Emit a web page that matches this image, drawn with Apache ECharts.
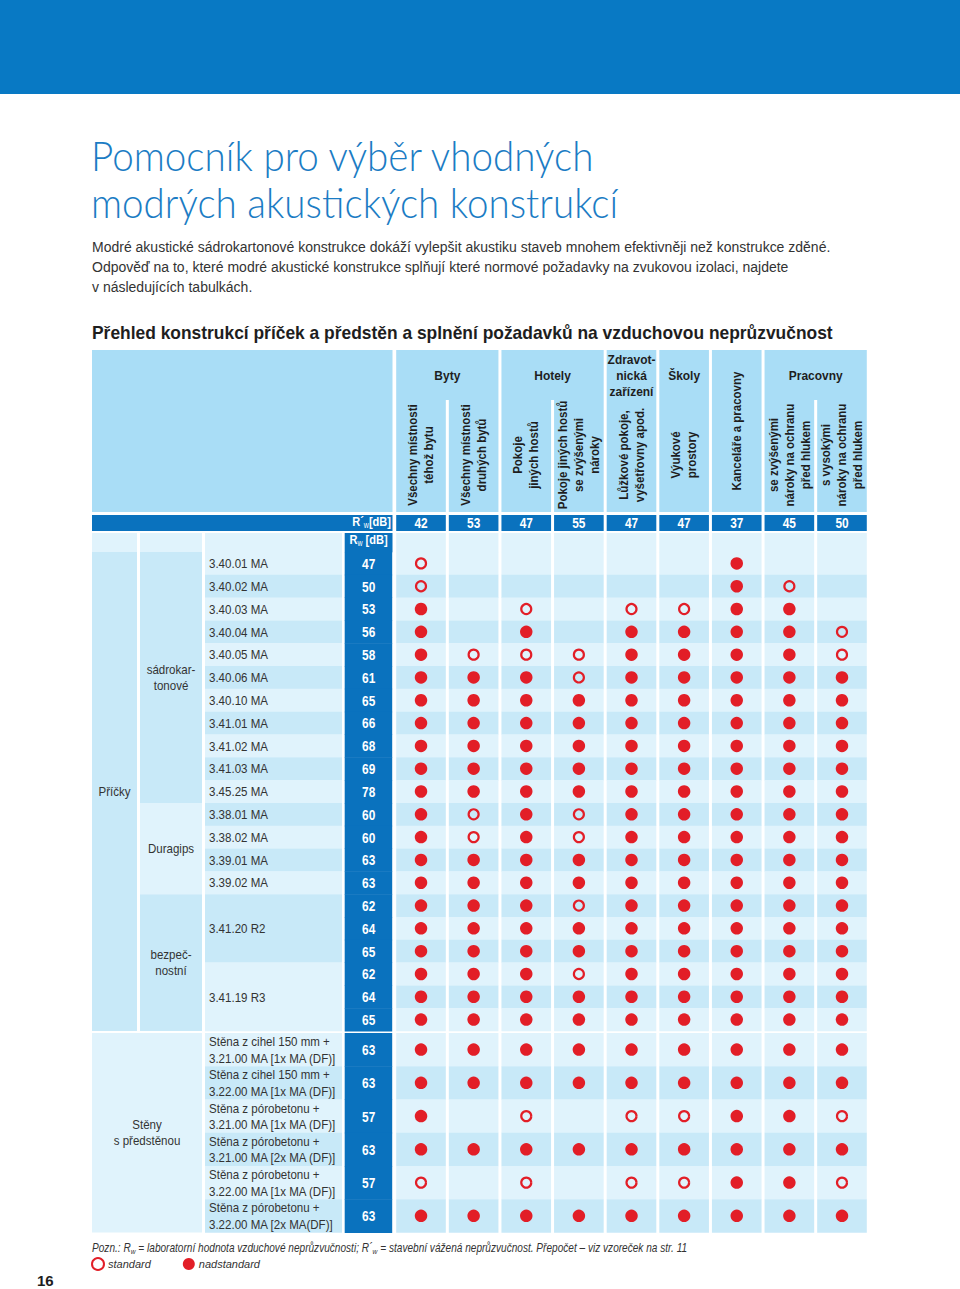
<!DOCTYPE html>
<html><head><meta charset="utf-8">
<script src="https://cdn.jsdelivr.net/npm/echarts@6/dist/echarts.min.js"></script>
<style>html,body{margin:0;padding:0;background:#fff}#c{width:960px;height:1289px}</style>
</head><body><div id="c"></div>
<script>
// ---------------- DATA ----------------
const columnGroups = ['Byty', 'Hotely', 'Zdravot-\nnická\nzařízení', 'Školy', '', 'Pracovny'];
const columnGroupSpans = [[0, 1], [2, 3], [4, 4], [5, 5], [6, 6], [7, 8]];
const columnLabels = [
  'Všechny místnosti\ntéhož bytu',
  'Všechny místnosti\ndruhých bytů',
  'Pokoje\njiných hostů',
  'Pokoje jiných hostů\nse zvýšenými\nnároky',
  'Lůžkové pokoje,\nvyšetřovny apod.',
  'Výukové\nprostory',
  'Kanceláře a pracovny',
  'se zvýšenými\nnároky na ochranu\npřed hlukem',
  's vysokými\nnároky na ochranu\npřed hlukem'
];
const requirementRw = [42, 53, 47, 55, 47, 47, 37, 45, 50];

const partitionGroup = 'Příčky';
const partitionSubgroups = ['sádrokar-\ntonové', 'Duragips', 'bezpeč-\nnostní'];
const partitionSubgroupSpans = [[0, 10], [11, 14], [15, 20]];
const partitionLabels = [
  '3.40.01 MA', '3.40.02 MA', '3.40.03 MA', '3.40.04 MA', '3.40.05 MA', '3.40.06 MA',
  '3.40.10 MA', '3.41.01 MA', '3.41.02 MA', '3.41.03 MA', '3.45.25 MA',
  '3.38.01 MA', '3.38.02 MA', '3.39.01 MA', '3.39.02 MA',
  '3.41.20 R2', null, null, '3.41.19 R3', null, null
];
const partitionRw = [47, 50, 53, 56, 58, 61, 65, 66, 68, 69, 78, 60, 60, 63, 63, 62, 64, 65, 62, 64, 65];
// 0 = none, 1 = standard, 2 = nadstandard
const partitionMarks = [
  [1, 0, 0, 0, 0, 0, 2, 0, 0],
  [1, 0, 0, 0, 0, 0, 2, 1, 0],
  [2, 0, 1, 0, 1, 1, 2, 2, 0],
  [2, 0, 2, 0, 2, 2, 2, 2, 1],
  [2, 1, 1, 1, 2, 2, 2, 2, 1],
  [2, 2, 2, 1, 2, 2, 2, 2, 2],
  [2, 2, 2, 2, 2, 2, 2, 2, 2],
  [2, 2, 2, 2, 2, 2, 2, 2, 2],
  [2, 2, 2, 2, 2, 2, 2, 2, 2],
  [2, 2, 2, 2, 2, 2, 2, 2, 2],
  [2, 2, 2, 2, 2, 2, 2, 2, 2],
  [2, 1, 2, 1, 2, 2, 2, 2, 2],
  [2, 1, 2, 1, 2, 2, 2, 2, 2],
  [2, 2, 2, 2, 2, 2, 2, 2, 2],
  [2, 2, 2, 2, 2, 2, 2, 2, 2],
  [2, 2, 2, 1, 2, 2, 2, 2, 2],
  [2, 2, 2, 2, 2, 2, 2, 2, 2],
  [2, 2, 2, 2, 2, 2, 2, 2, 2],
  [2, 2, 2, 1, 2, 2, 2, 2, 2],
  [2, 2, 2, 2, 2, 2, 2, 2, 2],
  [2, 2, 2, 2, 2, 2, 2, 2, 2]
];

const liningGroup = 'Stěny\ns předstěnou';
const liningLabels = [
  'Stěna z cihel 150 mm +\n3.21.00 MA [1x MA (DF)]',
  'Stěna z cihel 150 mm +\n3.22.00 MA [1x MA (DF)]',
  'Stěna z pórobetonu +\n3.21.00 MA [1x MA (DF)]',
  'Stěna z pórobetonu +\n3.21.00 MA [2x MA (DF)]',
  'Stěna z pórobetonu +\n3.22.00 MA [1x MA (DF)]',
  'Stěna z pórobetonu +\n3.22.00 MA [2x MA(DF)]'
];
const liningRw = [63, 63, 57, 63, 57, 63];
const liningMarks = [
  [2, 2, 2, 2, 2, 2, 2, 2, 2],
  [2, 2, 2, 2, 2, 2, 2, 2, 2],
  [2, 0, 1, 0, 1, 1, 2, 2, 1],
  [2, 2, 2, 2, 2, 2, 2, 2, 2],
  [1, 0, 1, 0, 1, 1, 2, 2, 1],
  [2, 2, 2, 2, 2, 2, 2, 2, 2]
];
const legendNames = ['standard', 'nadstandard'];

const titleLines = ['Pomocník pro výběr vhodných', 'modrých akustických konstrukcí'];
const introText = [
  'Modré akustické sádrokartonové konstrukce dokáží vylepšit akustiku staveb mnohem efektivněji než konstrukce zděné.',
  'Odpověď na to, které modré akustické konstrukce splňují které normové požadavky na zvukovou izolaci, najdete',
  'v následujících tabulkách.'
];
const tableTitle = 'Přehled konstrukcí příček a předstěn a splnění požadavků na vzduchovou neprůzvučnost';
const noteText = 'Pozn.: R{w|w} = laboratorní hodnota vzduchové neprůzvučnosti; R´{w|w} = stavební vážená neprůzvučnost. Přepočet – viz vzoreček na str. 11';
const pageNumber = '16';

// ---------------- STYLE ----------------
const SANS = '"Liberation Sans", Arial, sans-serif';
const BLUE = '#0a72be';
const TOPBLUE = '#0879c4';
const HEAD = '#a9ddf6';
const LIGHT = '#e0f3fc';
const DARK = '#c8e9f8';
const RED = '#e21e27';
const TXT = '#333333';
const GAP = 3;

const mctx = document.createElement('canvas').getContext('2d');
function textWidth(text, font) {
  mctx.font = font;
  return Math.max.apply(null, text.split('\n').map(l => mctx.measureText(l).width));
}
const LABEL_SIZE = 13;
const LABEL_SCALE = 121 / textWidth('Stěna z cihel 150 mm +', LABEL_SIZE + 'px ' + SANS);
const NUM_SIZE = 14.5;
const NUM_SCALE = 0.82;
const TITLE_SIZE = 42;
const TITLE_SCALE = 505 / textWidth(titleLines[0], '300 ' + TITLE_SIZE + 'px Lato');
const INTRO_SIZE = 15;
const INTRO_SCALE = 739 / textWidth(introText[0], INTRO_SIZE + 'px ' + SANS);
const TT_SIZE = 18.5;
const TT_SCALE = 741 / textWidth(tableTitle, 'bold ' + TT_SIZE + 'px ' + SANS);
const NOTE_SIZE = 12;
const NOTE_SCALE = 600 / textWidth(noteText.replace(/\{w\|w\}/g, 'w'), 'italic ' + NOTE_SIZE + 'px ' + SANS);

const chart = echarts.init(document.getElementById('c'), null, { renderer: 'svg', width: 960, height: 1289 });

function spansFromLabels(labels) {
  const out = [];
  labels.forEach((l, i) => {
    if (l !== null) out.push([i, i, l]);
    else out[out.length - 1][1] = i;
  });
  return out;
}
function markPoints(marks, kind) {
  const pts = [];
  marks.forEach((row, r) => row.forEach((m, j) => { if (m === kind) pts.push([j, r]); }));
  return pts;
}

// row backgrounds + Rw cells
function renderRow(params, api) {
  const row = api.value(0);
  const rw = api.value(1);
  const sz = api.size([1, 1]);
  const bw = sz[0], bh = sz[1];
  const cs = params.coordSys;
  const cy = api.coord([0, row])[1];
  const fill = row % 2 ? DARK : LIGHT;
  const children = [];
  for (let j = 0; j < columnLabels.length; j++) {
    const cx = api.coord([j, row])[0];
    children.push({ type: 'rect', shape: { x: cx - bw / 2 + GAP / 2, y: cy - bh / 2, width: bw - GAP, height: bh + 0.3 }, style: { fill } });
  }
  children.push({ type: 'rect', shape: { x: cs.x - 50, y: cy - bh / 2, width: 47.5, height: bh + 0.5 }, style: { fill: BLUE } });
  children.push({ type: 'text', x: cs.x - 26, y: cy + 0.5, scaleX: NUM_SCALE, style: { text: String(rw), fill: '#fff', fontFamily: SANS, fontWeight: 'bold', fontSize: NUM_SIZE, align: 'center', verticalAlign: 'middle' } });
  return { type: 'group', children };
}
// merged label cells
function renderLabel(params, api) {
  const s = api.value(0), e = api.value(1);
  const bh = api.size([1, 1])[1];
  const y0 = api.coord([0, s])[1] - bh / 2;
  const y1 = api.coord([0, e])[1] + bh / 2;
  const label = spanLabelsByKey[params.seriesId][params.dataIndex];
  return { type: 'group', children: [
    { type: 'rect', shape: { x: 205, y: y0, width: 137, height: y1 - y0 + 0.3 }, style: { fill: s % 2 ? DARK : LIGHT } },
    { type: 'text', x: 209, y: (y0 + y1) / 2 + 0.5, scaleX: LABEL_SCALE, style: { text: label, fill: TXT, fontFamily: SANS, fontSize: LABEL_SIZE, lineHeight: 16.5, align: 'left', verticalAlign: 'middle' } }
  ] };
}
// group cells on the left
function renderGroup(params, api) {
  const s = api.value(0), e = api.value(1), kind = api.value(2), shade = api.value(3);
  const bh = api.size([1, 1])[1];
  const y0 = api.coord([0, s])[1] - bh / 2;
  const y1 = api.coord([0, e])[1] + bh / 2;
  const x0 = kind === 1 ? 140 : 92;
  const x1 = kind === 0 ? 137 : 202;
  const label = groupLabelsByKey[params.seriesId][params.dataIndex];
  return { type: 'group', children: [
    { type: 'rect', shape: { x: x0, y: y0, width: x1 - x0, height: y1 - y0 }, style: { fill: shade ? DARK : LIGHT } },
    { type: 'text', x: (x0 + x1) / 2, y: (y0 + y1) / 2, scaleX: LABEL_SCALE, style: { text: label, fill: TXT, fontFamily: SANS, fontSize: LABEL_SIZE, lineHeight: 16, align: 'center', verticalAlign: 'middle' } }
  ] };
}
// header column groups
function renderHeadGroup(params, api) {
  const s = api.value(0), e = api.value(1);
  const bw = api.size([1, 0])[0];
  const cs = params.coordSys;
  const x0 = api.coord([s, 0])[0] - bw / 2 + GAP / 2;
  const x1 = api.coord([e, 0])[0] + bw / 2 - GAP / 2;
  const children = [{ type: 'rect', shape: { x: x0, y: cs.y, width: x1 - x0, height: 162 }, style: { fill: HEAD } }];
  for (let j = s; j < e; j++) {
    const xb = api.coord([j, 0])[0] + bw / 2;
    children.push({ type: 'rect', shape: { x: xb - GAP / 2, y: cs.y + 50, width: GAP, height: 112 }, style: { fill: '#fff' } });
  }
  const label = columnGroups[params.dataIndex];
  if (label) children.push({ type: 'text', x: (x0 + x1) / 2, y: cs.y + 26, scaleX: 0.92, style: { text: label, fill: '#1e1e1e', fontFamily: SANS, fontWeight: 'bold', fontSize: 13, lineHeight: 16, align: 'center', verticalAlign: 'middle' } });
  return { type: 'group', children };
}
// header columns: sub labels, R'w requirement, Rw header row
function renderHeadCol(params, api) {
  const j = api.value(0), req = api.value(1);
  const bw = api.size([1, 0])[0];
  const cs = params.coordSys;
  const cx = api.coord([j, 0])[0];
  const grouped = columnGroups[columnGroupSpans.findIndex(sp => j >= sp[0] && j <= sp[1])] !== '';
  return { type: 'group', children: [
    { type: 'text', x: cx, y: cs.y + (grouped ? 105 : 81), rotation: Math.PI / 2, scaleX: 0.92, style: { text: columnLabels[j], fill: '#1e1e1e', fontFamily: SANS, fontWeight: 'bold', fontSize: 12.5, lineHeight: 16, align: 'center', verticalAlign: 'middle' } },
    { type: 'rect', shape: { x: cx - bw / 2 + GAP / 2, y: cs.y + 165, width: bw - GAP, height: 16 }, style: { fill: BLUE } },
    { type: 'text', x: cx, y: cs.y + 173.5, scaleX: NUM_SCALE, style: { text: String(req), fill: '#fff', fontFamily: SANS, fontWeight: 'bold', fontSize: NUM_SIZE, align: 'center', verticalAlign: 'middle' } },
    { type: 'rect', shape: { x: cx - bw / 2 + GAP / 2, y: cs.y + 183, width: bw - GAP, height: 19.3 }, style: { fill: LIGHT } }
  ] };
}

const partitionSpans = spansFromLabels(partitionLabels);
const liningSpans = spansFromLabels(liningLabels);
const spanLabelsByKey = {
  pLabels: partitionSpans.map(s => s[2]),
  lLabels: liningSpans.map(s => s[2])
};
const partitionGroupData = [[0, partitionRw.length - 1, 0, 1]].concat(partitionSubgroupSpans.map((sp, i) => [sp[0], sp[1], 1, i % 2 === 0 ? 1 : 0]));
const groupLabelsByKey = {
  pGroups: [partitionGroup].concat(partitionSubgroups),
  lGroups: [liningGroup]
};

const catX = (gi) => ({ type: 'category', gridIndex: gi, data: columnLabels.map((_, i) => i), show: false, boundaryGap: true });
const catY = (gi, n) => ({ type: 'category', gridIndex: gi, data: Array.from({ length: n }, (_, i) => i), inverse: true, show: false, boundaryGap: true });

const scatterStyle = {
  standard: { symbol: 'circle', symbolSize: 10, itemStyle: { color: 'rgba(255,255,255,0)', borderColor: RED, borderWidth: 2.2, opacity: 1 } },
  nadstandard: { symbol: 'circle', symbolSize: 12.5, itemStyle: { color: RED, opacity: 1 } }
};
function scatterSeries(gi, marks) {
  return legendNames.map((name, k) => Object.assign({
    type: 'scatter', name, xAxisIndex: gi, yAxisIndex: gi, z: 5, silent: true,
    data: markPoints(marks, k + 1)
  }, scatterStyle[name]));
}

const subW = { fontSize: 8.5, padding: [7, 0, 0, 0] };
const option = {
  animation: false,
  grid: [
    { left: 394.7, top: 552, width: 473.6, height: 479 },
    { left: 394.7, top: 1033, width: 473.6, height: 199.5 },
    { left: 394.7, top: 350, width: 473.6, height: 201 }
  ],
  xAxis: [catX(0), catX(1), catX(2)],
  yAxis: [catY(0, partitionRw.length), catY(1, liningRw.length), { type: 'value', gridIndex: 2, min: 0, max: 1, show: false }],
  legend: {
    left: 91, top: 1257, padding: 0, itemWidth: 12, itemHeight: 12, itemGap: 32, selectedMode: false,
    textStyle: { fontFamily: SANS, fontStyle: 'italic', fontSize: 11, color: TXT, padding: [0, 0, 0, -1] },
    data: [
      { name: 'standard', icon: 'circle', itemStyle: { color: '#fff', borderColor: RED, borderWidth: 2, opacity: 1 } },
      { name: 'nadstandard', icon: 'circle', itemStyle: { color: RED, opacity: 1 } }
    ]
  },
  graphic: [
    { type: 'rect', shape: { x: 0, y: 0, width: 960, height: 94 }, style: { fill: TOPBLUE } },
    { type: 'text', x: 91, y: 155, scaleX: TITLE_SCALE, style: { text: titleLines[0], fill: '#1b7cc4', fontFamily: 'Lato', fontWeight: 300, fontSize: TITLE_SIZE, verticalAlign: 'middle' } },
    { type: 'text', x: 91, y: 202, scaleX: TITLE_SCALE, style: { text: titleLines[1], fill: '#1b7cc4', fontFamily: 'Lato', fontWeight: 300, fontSize: TITLE_SIZE, verticalAlign: 'middle' } },
    { type: 'text', x: 92, y: 267, scaleX: INTRO_SCALE, style: { text: introText.join('\n'), fill: '#333', fontFamily: SANS, fontSize: INTRO_SIZE, lineHeight: 20, verticalAlign: 'middle' } },
    { type: 'text', x: 92, y: 333, scaleX: TT_SCALE, style: { text: tableTitle, fill: '#1e1e1e', fontFamily: SANS, fontWeight: 'bold', fontSize: TT_SIZE, verticalAlign: 'middle' } },
    // left header block
    { type: 'rect', shape: { x: 92, y: 350, width: 300.5, height: 162 }, style: { fill: HEAD } },
    { type: 'rect', shape: { x: 92, y: 515, width: 300.5, height: 16 }, style: { fill: BLUE } },
    { type: 'text', x: 391, y: 522, scaleX: NUM_SCALE, style: { text: 'R´{w|w}[dB]', fill: '#fff', fontFamily: SANS, fontWeight: 'bold', fontSize: 13.5, align: 'right', verticalAlign: 'middle', rich: { w: subW } } },
    { type: 'rect', shape: { x: 92, y: 533, width: 45, height: 19.3 }, style: { fill: LIGHT } },
    { type: 'rect', shape: { x: 140, y: 533, width: 62, height: 19.3 }, style: { fill: LIGHT } },
    { type: 'rect', shape: { x: 205, y: 533, width: 137, height: 19.3 }, style: { fill: LIGHT } },
    { type: 'rect', shape: { x: 344.7, y: 533, width: 47.8, height: 19.3 }, style: { fill: BLUE } },
    { type: 'text', x: 368.5, y: 540, scaleX: NUM_SCALE, style: { text: 'R{w|w} [dB]', fill: '#fff', fontFamily: SANS, fontWeight: 'bold', fontSize: 13.5, align: 'center', verticalAlign: 'middle', rich: { w: subW } } },
    // footnote
    { type: 'text', x: 92, y: 1248, scaleX: NOTE_SCALE, style: { text: noteText, fill: TXT, fontFamily: SANS, fontStyle: 'italic', fontSize: NOTE_SIZE, verticalAlign: 'middle', rich: { w: { fontSize: 8, fontStyle: 'italic', padding: [6, 0, 0, 0] } } } },
    { type: 'text', x: 37, y: 1280, style: { text: pageNumber, fill: '#1e1e1e', fontFamily: SANS, fontWeight: 'bold', fontSize: 15, verticalAlign: 'middle' } }
  ],
  series: [
    { type: 'custom', id: 'headGroups', xAxisIndex: 2, yAxisIndex: 2, z: 1, silent: true, renderItem: renderHeadGroup, data: columnGroupSpans },
    { type: 'custom', id: 'headCols', xAxisIndex: 2, yAxisIndex: 2, z: 2, silent: true, renderItem: renderHeadCol, data: requirementRw.map((v, i) => [i, v]) },
    { type: 'custom', id: 'pRows', xAxisIndex: 0, yAxisIndex: 0, z: 1, silent: true, renderItem: renderRow, data: partitionRw.map((v, i) => [i, v]) },
    { type: 'custom', id: 'pLabels', xAxisIndex: 0, yAxisIndex: 0, z: 1, silent: true, renderItem: renderLabel, data: partitionSpans.map(s => [s[0], s[1]]) },
    { type: 'custom', id: 'pGroups', xAxisIndex: 0, yAxisIndex: 0, z: 1, silent: true, renderItem: renderGroup, data: partitionGroupData },
    { type: 'custom', id: 'lRows', xAxisIndex: 1, yAxisIndex: 1, z: 1, silent: true, renderItem: renderRow, data: liningRw.map((v, i) => [i, v]) },
    { type: 'custom', id: 'lLabels', xAxisIndex: 1, yAxisIndex: 1, z: 1, silent: true, renderItem: renderLabel, data: liningSpans.map(s => [s[0], s[1]]) },
    { type: 'custom', id: 'lGroups', xAxisIndex: 1, yAxisIndex: 1, z: 1, silent: true, renderItem: renderGroup, data: [[0, liningRw.length - 1, 2, 0]] }
  ].concat(scatterSeries(0, partitionMarks), scatterSeries(1, liningMarks))
};
chart.setOption(option);
</script>
</body></html>
